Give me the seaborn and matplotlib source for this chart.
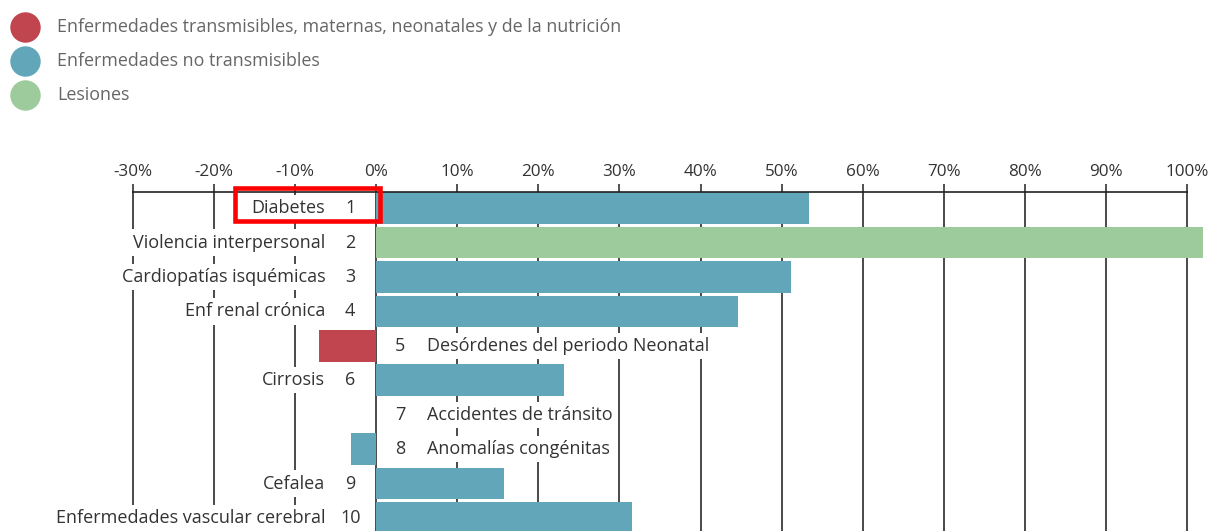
import seaborn as sns
import pandas as pd
import matplotlib.pyplot as plt
from matplotlib.patches import Rectangle

# data
causes = ["Diabetes", "Violencia interpersonal", "Cardiopatías isquémicas",
          "Enf renal crónica", "Desórdenes del periodo Neonatal", "Cirrosis",
          "Accidentes de tránsito", "Anomalías congénitas", "Cefalea",
          "Enfermedades vascular cerebral"]
ranks = [1, 2, 3, 4, 5, 6, 7, 8, 9, 10]
change = [53.4, 102.0, 51.1, 44.6, -7.0, 23.1, 0.0, -3.1, 15.7, 31.6]
groups = ["nt", "les", "nt", "nt", "tr", "nt", "les", "nt", "nt", "nt"]

group_names = ["Enfermedades transmisibles, maternas, neonatales y de la nutrición",
               "Enfermedades no transmisibles",
               "Lesiones"]
group_keys = ["tr", "nt", "les"]
palette = {"tr": "#C1454F", "nt": "#62A6BA", "les": "#9DCB9B"}

xticks = [-30, -20, -10, 0, 10, 20, 30, 40, 50, 60, 70, 80, 90, 100]

df = pd.DataFrame({"cause": causes, "rank": ranks, "change": change, "group": groups})

sns.set_style("white")
plt.rcParams["font.family"] = ["Open Sans", "DejaVu Sans"]

W, H = 1212, 531
fig = plt.figure(figsize=(W / 100, H / 100), dpi=100)
ax = fig.add_axes([133 / W, 0, 1054 / W, 339 / H])

sns.barplot(data=df, x="change", y="cause", hue="group", palette=palette,
            saturation=1, dodge=False, orient="h", width=0.92, linewidth=0,
            legend=False, ax=ax)
for p in ax.patches:
    p.set_clip_on(False)
    p.set_zorder(2)

ax.set_xlim(-30, 100)
ax.set_ylim(9.38, -0.47)
ax.set_xticks(xticks)
ax.set_xticklabels([f"{t}%" for t in xticks], fontsize=12.3, color="#333333")
ax.xaxis.tick_top()
ax.tick_params(axis="x", top=True, bottom=False, length=6, width=1.2,
               color="#333333", pad=2.5)
ax.set_yticks([])
ax.set_xlabel("")
ax.set_ylabel("")
for s in ["left", "right", "bottom"]:
    ax.spines[s].set_visible(False)
ax.spines["top"].set_color("#222222")
ax.spines["top"].set_linewidth(1.2)
ax.grid(axis="x", color="#3a3a3a", linewidth=1.3)
for gl in ax.get_xgridlines():
    gl.set_clip_on(False)
ax.set_axisbelow(True)

fs = 13
box = dict(facecolor="white", edgecolor="none", pad=3)
for i, row in df.iterrows():
    if row["change"] > 0:
        ax.annotate(row["cause"], (0, i), xytext=(-51, 0), textcoords="offset pixels",
                    ha="right", va="center", fontsize=fs, color="#333333", bbox=box, zorder=3)
        ax.annotate(str(row["rank"]), (0, i), xytext=(-26, 0), textcoords="offset pixels",
                    ha="center", va="center", fontsize=fs, color="#333333", bbox=box, zorder=3)
    else:
        ax.annotate(str(row["rank"]), (0, i), xytext=(24, 0), textcoords="offset pixels",
                    ha="center", va="center", fontsize=fs, color="#333333", bbox=box, zorder=3)
        ax.annotate(row["cause"], (0, i), xytext=(51, 0), textcoords="offset pixels",
                    ha="left", va="center", fontsize=fs, color="#333333", bbox=box, zorder=3)

# overlay in pixel coordinates for the legend and highlight box
lax = fig.add_axes([0, 0, 1, 1], zorder=5)
lax.set_xlim(0, W)
lax.set_ylim(H, 0)
lax.axis("off")
leg_y = [27, 61, 95]
for y, key, name in zip(leg_y, group_keys, group_names):
    lax.scatter([25], [y], s=480, color=palette[key], linewidths=0)
    lax.text(57, y, name, va="center", ha="left", fontsize=12.9, color="#666666")

lax.add_patch(Rectangle((235, 187.5), 144.5, 33.5, fill=False,
                        edgecolor="#FF0000", linewidth=3.3))

fig.savefig("out.png", dpi=100)
